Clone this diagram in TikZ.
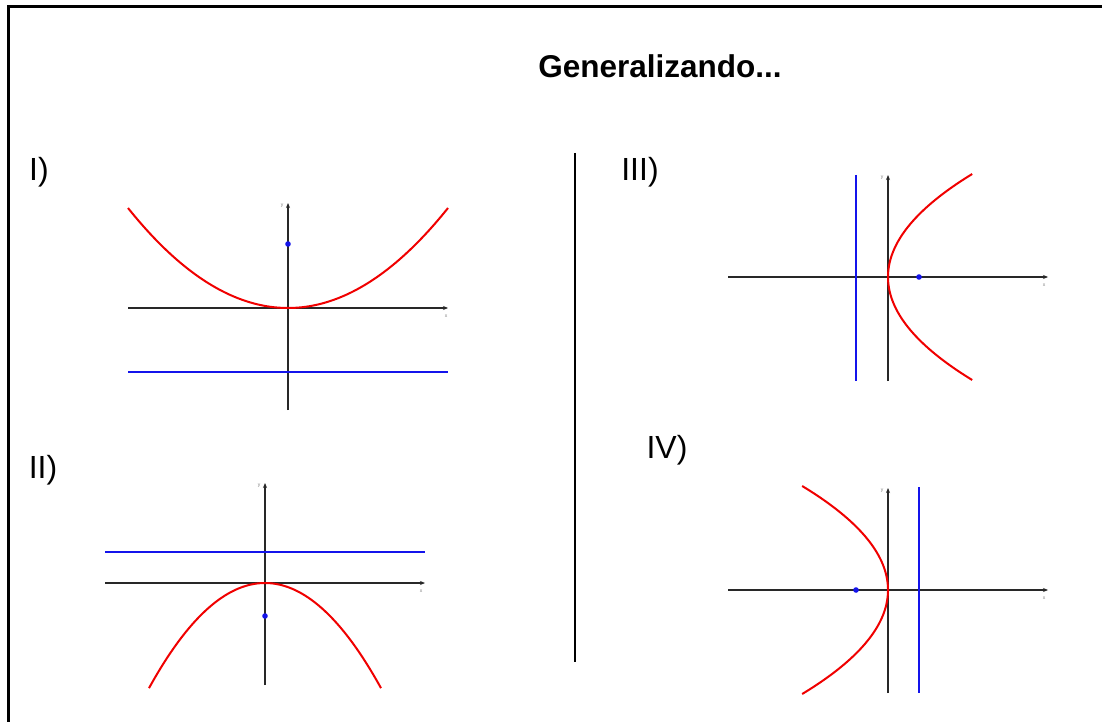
\documentclass[tikz,border=0pt]{standalone}
\usepackage{fontspec}
\setmainfont{Liberation Sans}
\usepackage{tikz}
\usetikzlibrary{arrows.meta}
\definecolor{axisgray}{RGB}{40,40,40}
\definecolor{curvered}{RGB}{240,0,0}
\definecolor{linkblue}{RGB}{20,20,235}

\begin{document}
\begin{tikzpicture}[x=1pt,y=-1pt,
  axis/.style={axisgray,line width=1.4pt,-{Stealth[length=5pt,width=4pt]}},
  curve/.style={curvered,line width=2pt},
  dirline/.style={linkblue,line width=1.6pt},
  focusdot/.style={linkblue},
  axislabel/.style={gray,font=\fontsize{5}{5}\selectfont},
  caselabel/.style={font=\fontsize{32}{38}\selectfont}]
  \useasboundingbox (0,0) rectangle (1102,722);
  \fill[white] (0,0) rectangle (1102,722);
  % frame and divider
  \draw[line width=3pt] (8,722) -- (8,7) -- (1102,7);
  \draw[line width=1.8pt] (575,153) -- (575,662);
  \node[font=\fontsize{31.5}{36}\selectfont\bfseries] (title) at (660,66) {Generalizando...};
  \node[caselabel] (labI) at (39,172) {I)};
  \node[caselabel] (labII) at (43,470) {II)};
  \node[caselabel] (labIII) at (640,172) {III)};
  \node[caselabel] (labIV) at (667,450) {IV)};
  % I) opening upwards
  \begin{scope}[shift={(288,308)}]
    \draw[axis] (-160,0) -- (160,0);
    \draw[axis] (0,102) -- (0,-105);
    \node[axislabel] at (-6,-102) {y};
    \node[axislabel] at (158,8) {x};
    \draw[dirline] (-160,64) -- (160,64);
    \draw[curve] plot[domain=-160:160,samples=80,smooth] (\x,{-(\x/16)*(\x/16)});
    \fill[focusdot] (0,-64) circle (2.8pt);
  \end{scope}
  % II) opening downwards
  \begin{scope}[shift={(265,583)}]
    \draw[axis] (-160,0) -- (160,0);
    \draw[axis] (0,102) -- (0,-100);
    \node[axislabel] at (-6,-97) {y};
    \node[axislabel] at (156,8) {x};
    \draw[dirline] (-160,-31) -- (160,-31);
    \draw[curve] plot[domain=-116:116,samples=80,smooth] (\x,{(\x/8)*(\x/16)});
    \fill[focusdot] (0,33) circle (2.8pt);
  \end{scope}
  % III) opening to the right
  \begin{scope}[shift={(888,277)}]
    \draw[axis] (-160,0) -- (160,0);
    \draw[axis] (0,104) -- (0,-102);
    \node[axislabel] at (-6,-99) {y};
    \node[axislabel] at (156,8) {x};
    \draw[dirline] (-32,-102) -- (-32,104);
    \draw[curve] plot[domain=-103:103,samples=80,smooth] ({(\x/9)*(\x/14)},\x);
    \fill[focusdot] (31,0) circle (2.8pt);
  \end{scope}
  % IV) opening to the left
  \begin{scope}[shift={(888,590)}]
    \draw[axis] (-160,0) -- (160,0);
    \draw[axis] (0,103) -- (0,-102);
    \node[axislabel] at (-6,-99) {y};
    \node[axislabel] at (156,8) {x};
    \draw[dirline] (31,-103) -- (31,103);
    \draw[curve] plot[domain=-104:104,samples=80,smooth] ({-(\x/9)*(\x/14)},\x);
    \fill[focusdot] (-32,0) circle (2.8pt);
  \end{scope}
\end{tikzpicture}
\end{document}
